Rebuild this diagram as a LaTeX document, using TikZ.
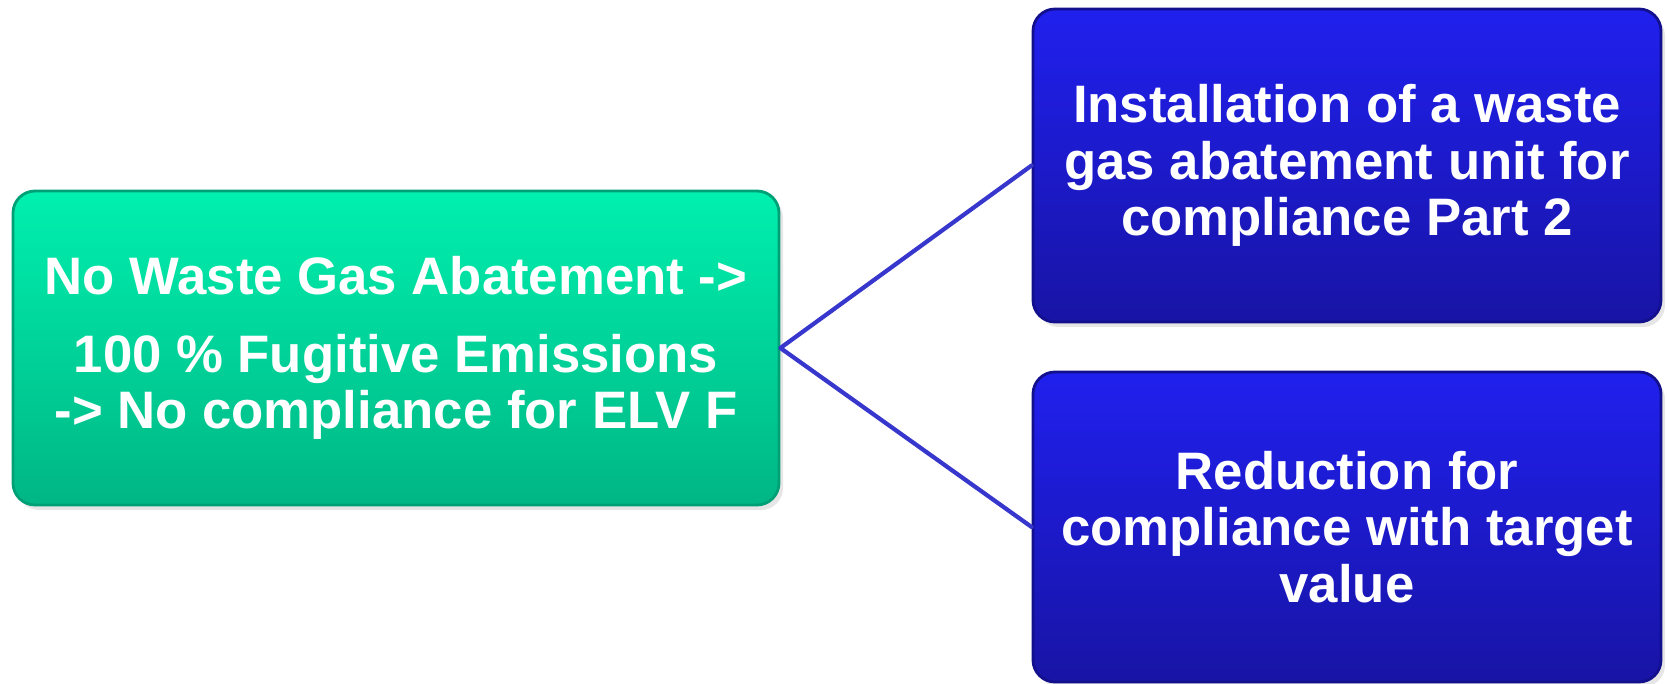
\documentclass[tikz,border=0pt]{standalone}
\usepackage{fontspec}
\setmainfont{Liberation Sans}
\usetikzlibrary{shadows}
\definecolor{mintTop}{RGB}{0,240,175}
\definecolor{mintBot}{RGB}{0,182,132}
\definecolor{mintEdge}{RGB}{0,160,118}
\definecolor{royalTop}{RGB}{32,32,238}
\definecolor{royalBot}{RGB}{24,20,165}
\definecolor{royalEdge}{RGB}{18,16,140}
\definecolor{linkblue}{RGB}{55,55,205}
\begin{document}
\begin{tikzpicture}[line join=round,line cap=round,
	box/.style={rounded corners=0.22cm,draw=#1,line width=0.8pt,align=center,text=white,
		font=\fontsize{15pt}{16pt}\selectfont\bfseries,inner sep=0pt,
		drop shadow={opacity=0.2,shadow xshift=0.04cm,shadow yshift=-0.05cm}},
	link/.style={draw=linkblue,line width=1.2pt}]
	\useasboundingbox (0,0) rectangle (16.67,6.84);
	\node[box=mintEdge,top color=mintTop,bottom color=mintBot,minimum width=7.66cm,minimum height=3.14cm] (cause) at (3.96,3.36)
		{No Waste Gas Abatement ->\\[6pt]100 \% Fugitive Emissions\\-> No compliance for ELV F};
	\node[box=royalEdge,top color=royalTop,bottom color=royalBot,minimum width=6.28cm,minimum height=3.13cm] (install) at (13.47,5.185)
		{Installation of a waste\\gas abatement unit for\\compliance Part 2};
	\node[box=royalEdge,top color=royalTop,bottom color=royalBot,minimum width=6.28cm,minimum height=3.10cm] (reduce) at (13.47,1.57)
		{Reduction for\\compliance with target\\value};
	\draw[link] (install.west)--(cause.east)--(reduce.west);
\end{tikzpicture}
\end{document}
